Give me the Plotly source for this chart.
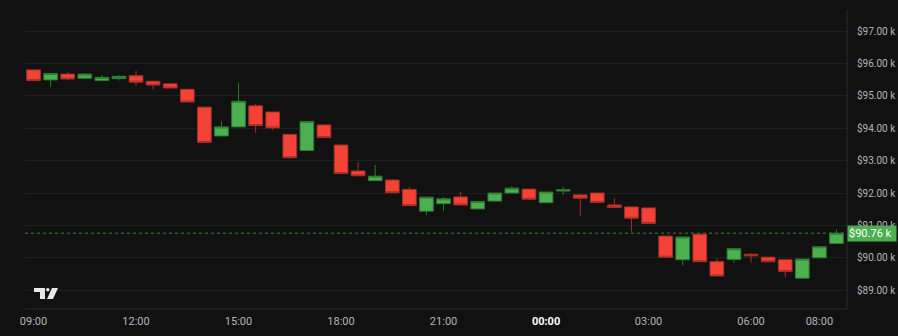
import plotly.graph_objects as go
import pandas as pd

# ---- data (BTC 30-minute candles, thousands of USD) ----
times = pd.date_range("2025-11-16 09:00", periods=48, freq="30min")
opens = [95.80, 95.49, 95.67, 95.54, 95.47, 95.53, 95.62, 95.45, 95.37, 95.20,
         94.65, 93.76, 94.04, 94.69, 94.50, 93.81, 93.31, 94.10, 93.48, 92.68,
         92.38, 92.40, 92.11, 91.44, 91.67, 91.88, 91.51, 91.75, 92.00, 92.12,
         91.70, 92.06, 91.94, 92.00, 91.63, 91.57, 91.54, 90.67, 89.94, 90.73,
         89.88, 89.95, 90.11, 90.02, 89.94, 89.37, 90.00, 90.44]
highs = [95.80, 95.69, 95.73, 95.70, 95.64, 95.64, 95.77, 95.46, 95.40, 95.20,
         94.65, 94.23, 95.40, 94.75, 94.50, 93.81, 94.21, 94.10, 93.50, 92.96,
         92.86, 92.43, 92.19, 91.87, 91.88, 92.03, 91.74, 92.00, 92.22, 92.12,
         92.03, 92.18, 91.94, 92.00, 91.84, 91.57, 91.54, 90.67, 90.64, 90.73,
         89.98, 90.28, 90.15, 90.02, 89.94, 89.96, 90.34, 90.87]
lows = [95.47, 95.27, 95.49, 95.52, 95.47, 95.47, 95.31, 95.19, 95.24, 94.81,
        93.54, 93.76, 94.04, 93.86, 93.94, 93.05, 93.31, 93.71, 92.60, 92.53,
        92.38, 92.01, 91.61, 91.32, 91.45, 91.63, 91.48, 91.73, 92.00, 91.78,
        91.70, 91.94, 91.30, 91.71, 91.55, 90.81, 91.06, 90.02, 89.76, 89.88,
        89.44, 89.85, 89.85, 89.85, 89.41, 89.36, 90.00, 90.44]
closes = [95.47, 95.69, 95.52, 95.67, 95.57, 95.60, 95.42, 95.33, 95.24, 94.81,
          93.56, 94.04, 94.83, 94.08, 94.01, 93.09, 94.21, 93.71, 92.60, 92.53,
          92.52, 92.01, 91.61, 91.87, 91.82, 91.63, 91.74, 92.00, 92.15, 91.81,
          92.03, 92.10, 91.84, 91.71, 91.55, 91.22, 91.06, 90.02, 90.64, 89.88,
          89.44, 90.28, 90.06, 89.88, 89.58, 89.96, 90.34, 90.76]

y_ticks = [89, 90, 91, 92, 93, 94, 95, 96, 97]
y_labels = ["$89.00 k", "$90.00 k", "$91.00 k", "$92.00 k", "$93.00 k",
            "$94.00 k", "$95.00 k", "$96.00 k", "$97.00 k"]
x_ticks = ["2025-11-16 09:00", "2025-11-16 12:00", "2025-11-16 15:00",
           "2025-11-16 18:00", "2025-11-16 21:00", "2025-11-17 00:00",
           "2025-11-17 03:00", "2025-11-17 06:00", "2025-11-17 08:00"]
x_labels = ["09:00", "12:00", "15:00", "18:00", "21:00",
            "<span style='color:#ffffff'><b>00:00</b></span>",
            "03:00", "06:00", "08:00"]
last_label = "$90.76 k"

BG = "#111111"
UP = "#4caf50"
DOWN = "#f44336"
GRID = "#1f1f1f"
TXT = "#b2b5be"

fig = go.Figure()
fig.add_trace(go.Candlestick(
    x=times, open=opens, high=highs, low=lows, close=closes,
    increasing=dict(fillcolor=UP, line=dict(color="#2e7a33", width=1)),
    decreasing=dict(fillcolor=DOWN, line=dict(color="#a5302a", width=1)),
    whiskerwidth=0, showlegend=False, hoverinfo="skip",
))

# last price dotted line
fig.add_shape(type="line", xref="paper", x0=0, x1=1, yref="y",
              y0=closes[-1], y1=closes[-1],
              line=dict(color="#2f8a34", width=1, dash="dot"), layer="below")

# last price label
fig.add_annotation(xref="paper", x=1.0, yref="y", y=closes[-1], text=last_label,
                   showarrow=False, xanchor="left", yanchor="middle",
                   bgcolor=UP, font=dict(color="#ffffff", size=11, family="Roboto"),
                   borderpad=1, width=46, align="left")

# axis borders (right and bottom)
fig.add_shape(type="line", xref="paper", yref="paper", x0=1, x1=1, y0=0, y1=1,
              line=dict(color="#2a2a2a", width=1))
fig.add_shape(type="line", xref="paper", yref="paper", x0=0, x1=1, y0=0, y1=0,
              line=dict(color="#2a2a2a", width=1))

# TradingView-like logo (paper coords)
L, W = 25, 822
T, H = 10, 299
def px(x):
    return (x - L) / W
def py(y):
    return (T + H - y) / H
logo_col = "#e8e8e8"
fig.add_shape(type="path", xref="paper", yref="paper", fillcolor=logo_col,
              line=dict(width=0),
              path=f"M {px(34)} {py(288)} L {px(45)} {py(288)} L {px(45)} {py(299)} "
                   f"L {px(40)} {py(299)} L {px(40)} {py(292)} L {px(34)} {py(292)} Z")
fig.add_shape(type="circle", xref="paper", yref="paper", fillcolor=logo_col,
              line=dict(width=0), x0=px(46), x1=px(49.5), y0=py(291.5), y1=py(288))
fig.add_shape(type="path", xref="paper", yref="paper", fillcolor=logo_col,
              line=dict(width=0),
              path=f"M {px(52)} {py(288)} L {px(58)} {py(288)} L {px(53)} {py(299)} "
                   f"L {px(47)} {py(299)} Z")

fig.update_layout(
    width=898, height=336,
    margin=dict(l=25, r=51, t=10, b=27, autoexpand=False),
    paper_bgcolor=BG, plot_bgcolor=BG,
    boxgap=0.2, boxgroupgap=0,
    font=dict(family="Roboto", size=11, color=TXT),
    xaxis=dict(
        range=["2025-11-16 08:45", "2025-11-17 08:48:30"],
        tickvals=x_ticks, ticktext=x_labels,
        showgrid=False, zeroline=False, showline=False,
        rangeslider=dict(visible=False),
        tickfont=dict(size=11, color=TXT),
        ticks="", ticklabelstandoff=4,
        fixedrange=True, automargin=False,
    ),
    yaxis=dict(
        side="right",
        range=[97 - 299 / 32.4 + 21 / 32.4, 97 + 21 / 32.4],
        tickvals=y_ticks, ticktext=y_labels,
        showgrid=True, gridcolor=GRID, gridwidth=1,
        zeroline=False, showline=False,
        tickfont=dict(size=10, color=TXT),
        ticks="", ticklabelstandoff=9,
        fixedrange=True, automargin=False,
    ),
)

fig.write_html("out.html")
